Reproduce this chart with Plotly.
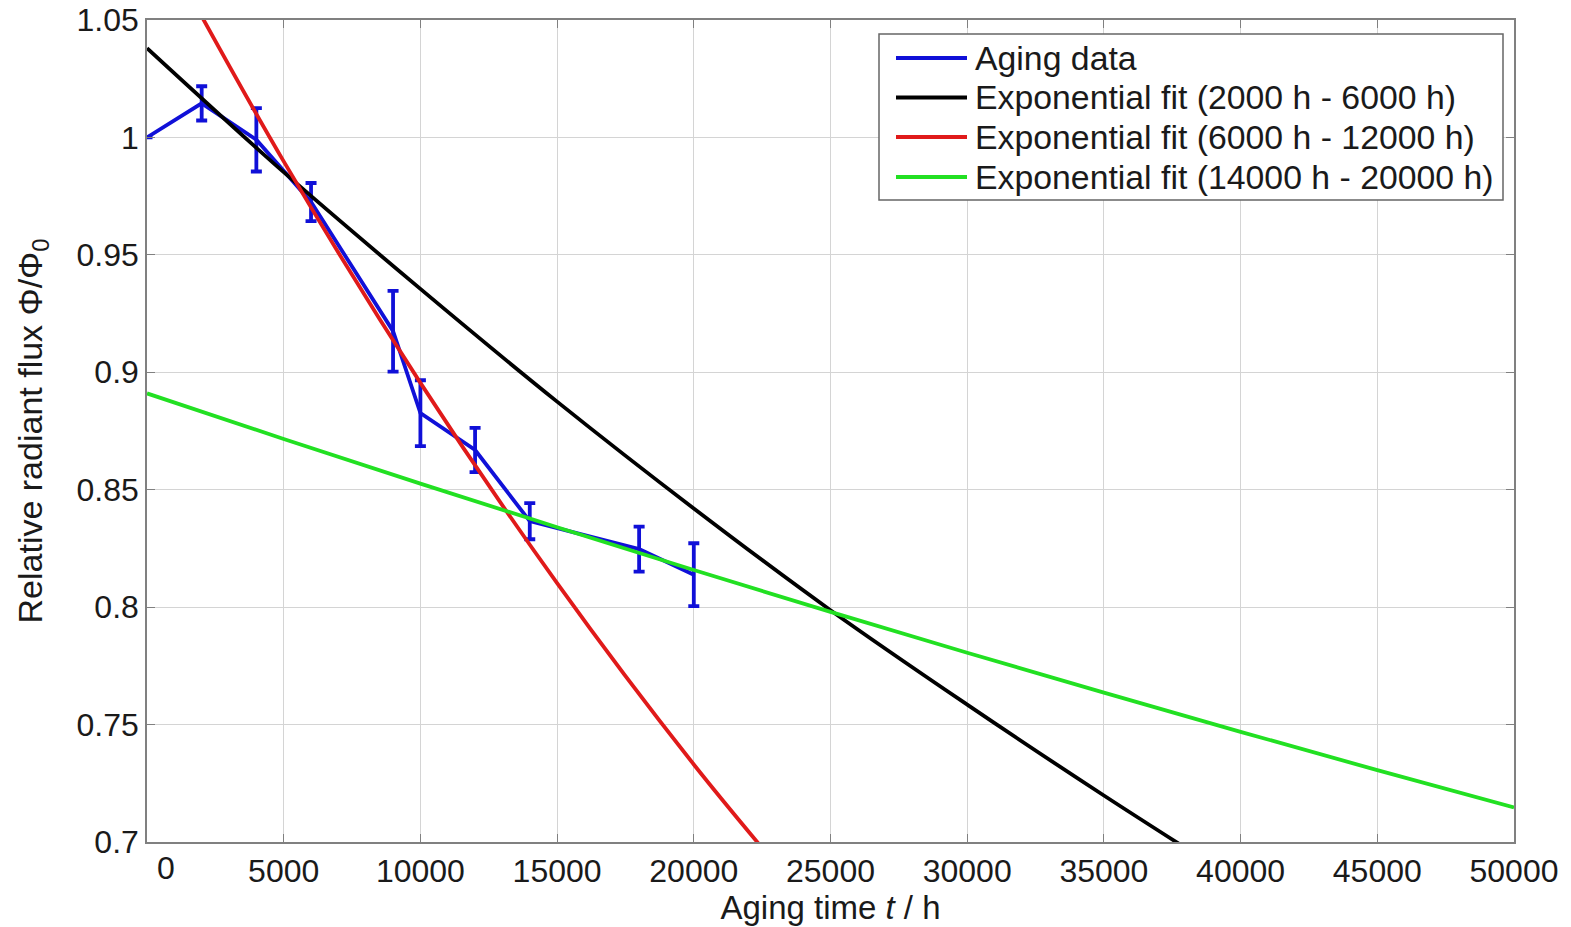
import plotly.graph_objects as go

# Aging data (measured points with error bars)
t_data = [0, 2000, 4000, 6000, 9000, 10000, 12000, 14000, 18000, 20000]
flux_data = [1.000, 1.0145, 0.999, 0.9725, 0.9175, 0.8826, 0.8669, 0.8366, 0.8247, 0.8138]
flux_err = [0.0, 0.0073, 0.0135, 0.0081, 0.0172, 0.014, 0.0094, 0.0077, 0.0096, 0.0134]

# Exponential fit curves
t_fit_black = [0, 5000, 10000, 15000, 20000, 25000, 30000, 35000, 40000]
flux_fit_black = [1.038, 0.9852, 0.9355, 0.8875, 0.8420, 0.7987, 0.7585, 0.7198, 0.6826]

t_fit_red = [0, 5000, 10000, 15000, 20000, 25000]
flux_fit_red = [1.094, 0.9898, 0.8955, 0.8102, 0.7330, 0.6631]

t_fit_green = [0, 5000, 10000, 15000, 20000, 25000, 30000, 35000, 40000, 45000, 50000]
flux_fit_green = [0.891, 0.8716, 0.8526, 0.8340, 0.8158, 0.7980, 0.7806, 0.7636, 0.7469, 0.7306, 0.7147]

names = ["Aging data",
         "Exponential fit (2000 h - 6000 h)",
         "Exponential fit (6000 h - 12000 h)",
         "Exponential fit (14000 h - 20000 h)"]

x_ticks = [5000, 10000, 15000, 20000, 25000, 30000, 35000, 40000, 45000, 50000]
y_ticks = [0.7, 0.75, 0.8, 0.85, 0.9, 0.95, 1.0, 1.05]
y_ticktext = ["0.7", "0.75", "0.8", "0.85", "0.9", "0.95", "1", "1.05"]

BLUE = "#1010d8"
BLACK = "#000000"
RED = "#e01a1a"
GREEN = "#22e022"
colors = [BLUE, BLACK, RED, GREEN]
FONT = "Liberation Sans, Arial, sans-serif"
LW = 3.8

W, H = 1571, 927
ML, MR, MT, MB = 147, 57, 20, 85
PW, PH = W - ML - MR, H - MT - MB


def px_x(p):
    return (p - ML) / PW


def px_y(p):
    return (H - MB - p) / PH


fig = go.Figure()
fig.add_trace(go.Scatter(
    x=t_data, y=flux_data, mode="lines", name=names[0],
    line=dict(color=BLUE, width=LW),
    error_y=dict(type="data", array=flux_err, visible=True, color=BLUE, thickness=3.8, width=5.5),
))
fig.add_trace(go.Scatter(x=t_fit_black, y=flux_fit_black, mode="lines", name=names[1],
                         line=dict(color=BLACK, width=LW, shape="spline")))
fig.add_trace(go.Scatter(x=t_fit_red, y=flux_fit_red, mode="lines", name=names[2],
                         line=dict(color=RED, width=LW, shape="spline")))
fig.add_trace(go.Scatter(x=t_fit_green, y=flux_fit_green, mode="lines", name=names[3],
                         line=dict(color=GREEN, width=LW, shape="spline")))

# Legend box (drawn like the MATLAB legend)
shapes = [dict(type="rect", xref="paper", yref="paper",
               x0=px_x(879), x1=px_x(1503), y0=px_y(200), y1=px_y(34),
               line=dict(color="#666666", width=1.5), fillcolor="white", layer="above")]
annotations = []
row_y = [58, 97.5, 137, 177]
for name, col, ry in zip(names, colors, row_y):
    shapes.append(dict(type="line", xref="paper", yref="paper",
                       x0=px_x(896), x1=px_x(967), y0=px_y(ry), y1=px_y(ry),
                       line=dict(color=col, width=LW), layer="above"))
    annotations.append(dict(x=px_x(973), y=px_y(ry), xref="paper", yref="paper", text=name,
                            showarrow=False, xanchor="left", yanchor="middle",
                            font=dict(size=33.8, family=FONT, color="#1a1a1a")))

# first x tick label ("0") sits slightly right of the axis corner, as in the original
annotations.append(dict(x=0, y=0, xref="x", yref="paper", text="0", showarrow=False,
                        xanchor="center", yanchor="top", xshift=19, yshift=-6,
                        font=dict(size=32, family=FONT, color="#1a1a1a")))

fig.update_layout(
    width=W, height=H,
    margin=dict(l=ML, r=MR, t=MT, b=MB),
    paper_bgcolor="white", plot_bgcolor="white",
    font=dict(family=FONT, size=32, color="#1a1a1a"),
    showlegend=False,
    xaxis=dict(range=[0, 50000], tickvals=x_ticks, ticktext=[str(v) for v in x_ticks],
               showgrid=True, gridcolor="#d4d4d4", gridwidth=1,
               showline=True, linecolor="#808080", linewidth=1.5, mirror="ticks",
               ticks="inside", ticklen=8, tickcolor="#808080",
               zeroline=False, automargin=False,
               title=dict(text="Aging time <i>t</i> / h", font=dict(size=33), standoff=2)),
    yaxis=dict(range=[0.7, 1.05], tickvals=y_ticks, ticktext=y_ticktext,
               showgrid=True, gridcolor="#d4d4d4", gridwidth=1,
               showline=True, linecolor="#808080", linewidth=1.5, mirror="ticks",
               ticks="inside", ticklen=8, tickcolor="#808080",
               zeroline=False, automargin=False,
               title=dict(text="Relative radiant flux Φ/Φ<sub>0</sub>", font=dict(size=34), standoff=24)),
    shapes=shapes,
    annotations=annotations,
)

fig.write_html("out.html")
